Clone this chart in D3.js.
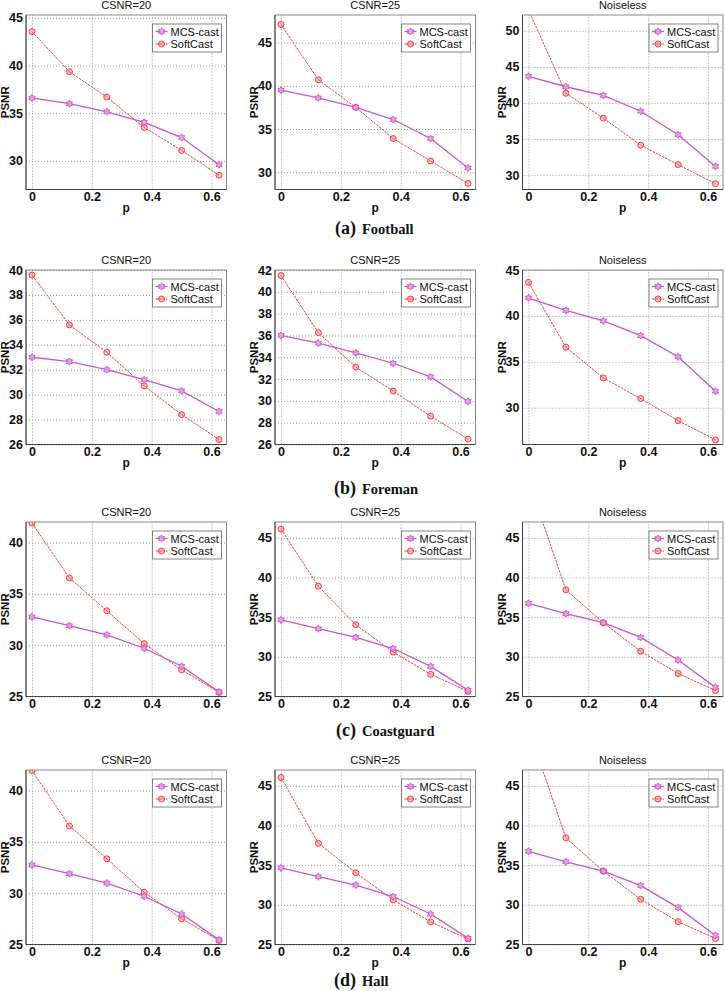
<!DOCTYPE html>
<html><head><meta charset="utf-8">
<script src="https://cdn.jsdelivr.net/npm/d3@7"></script>
<style>body{margin:0;background:#fff}</style>
</head><body><svg id="c" width="725" height="991"></svg>
<script>
const pValues = [0, 0.125, 0.25, 0.375, 0.5, 0.625];
const xTicks = [0, 0.2, 0.4, 0.6];
const sequenceNames = ["Football", "Foreman", "Coastguard", "Hall"];
const captionLetters = ["(a)", "(b)", "(c)", "(d)"];
const conditionTitles = ["CSNR=20", "CSNR=25", "Noiseless"];
const seriesNames = ["MCS-cast", "SoftCast"];

const footballMcs = [[36.6, 36.0, 35.15, 34.05, 32.45, 29.6], [39.5, 38.6, 37.5, 36.1, 33.9, 30.5], [43.7, 42.25, 41.05, 38.85, 35.6, 31.2]];
const footballSoft = [[43.55, 39.35, 36.7, 33.5, 31.1, 28.5], [47.1, 40.7, 37.5, 33.9, 31.3, 28.7], [52.9, 41.35, 37.9, 34.15, 31.45, 28.8]];
const foremanMcs = [[33.0, 32.65, 32.0, 31.2, 30.3, 28.65], [36.0, 35.3, 34.4, 33.45, 32.2, 29.95], [41.95, 40.6, 39.45, 37.85, 35.55, 31.8]];
const foremanSoft = [[39.6, 35.6, 33.4, 30.7, 28.4, 26.4], [41.5, 36.25, 33.1, 30.9, 28.6, 26.5], [43.65, 36.6, 33.25, 31.0, 28.6, 26.5]];
const coastguardMcs = [[32.75, 31.9, 31.0, 29.7, 27.95, 25.45], [34.65, 33.55, 32.45, 31.05, 28.8, 25.8], [36.75, 35.45, 34.3, 32.45, 29.6, 26.15]];
const coastguardSoft = [[41.9, 36.55, 33.35, 30.15, 27.6, 25.4], [46.1, 38.9, 34.05, 30.6, 27.8, 25.65], [52.2, 38.45, 34.3, 30.7, 27.9, 25.75]];
const hallMcs = [[32.75, 31.9, 30.98, 29.7, 27.97, 25.45], [34.65, 33.55, 32.5, 31.05, 28.85, 25.8], [36.75, 35.43, 34.25, 32.43, 29.65, 26.14]];
const hallSoft = [[41.95, 36.55, 33.35, 30.1, 27.5, 25.4], [46.05, 37.75, 34.05, 30.62, 27.85, 25.68], [52.2, 38.45, 34.25, 30.7, 27.87, 25.75]];

const yDomains = [
  [[27, 45.3], [28, 48.2], [28, 52.2]],
  [[26, 40], [26, 42], [26, 45]],
  [[25, 42], [25, 47], [25, 47]],
  [[25, 42], [25, 47], [25, 47]]
];
const yTicks = [
  [[30, 35, 40, 45], [30, 35, 40, 45], [30, 35, 40, 45, 50]],
  [[26, 28, 30, 32, 34, 36, 38, 40], [26, 28, 30, 32, 34, 36, 38, 40, 42], [30, 35, 40, 45]],
  [[25, 30, 35, 40], [25, 30, 35, 40, 45], [25, 30, 35, 40, 45]],
  [[25, 30, 35, 40], [25, 30, 35, 40, 45], [25, 30, 35, 40, 45]]
];
const mcsRows = [footballMcs, foremanMcs, coastguardMcs, hallMcs];
const softRows = [footballSoft, foremanSoft, coastguardSoft, hallSoft];
const showXLabel = [true, true, false, true];

// layout
const colLeft = [26, 275, 522.5];
const plotW = 200.5;
const rowTop = [15, 270, 522, 770];
const plotH = 174.5;
const captionY = [234, 494, 736, 986];
const mcsColor = "#cc55cc";
const softColor = "#ff3a3a";
const sans = "'Liberation Sans', Arial, sans-serif";
const serif = "'Liberation Serif', 'Times New Roman', serif";

const svg = d3.select("#c");

const hexagram = {
  draw(ctx, size) {
    const r = Math.sqrt(size);
    const ri = r / Math.sqrt(3);
    for (let i = 0; i < 12; i++) {
      const a = -Math.PI / 2 + i * Math.PI / 6;
      const rr = i % 2 === 0 ? r : ri;
      const x = rr * Math.cos(a), y = rr * Math.sin(a);
      if (i === 0) ctx.moveTo(x, y); else ctx.lineTo(x, y);
    }
    ctx.closePath();
  }
};

let clipId = 0;
for (let r = 0; r < 4; r++) {
  for (let c = 0; c < 3; c++) {
    const left = colLeft[c], top = rowTop[r];
    const g = svg.append("g").attr("transform", `translate(${left},${top})`);
    const x = d3.scaleLinear().domain([-0.02, 0.65]).range([0, plotW]);
    const y = d3.scaleLinear().domain(yDomains[r][c]).range([plotH, 0]);

    // grid
    const gx = g.append("g").attr("transform", `translate(0,${plotH})`)
      .call(d3.axisBottom(x).tickValues(xTicks).tickSize(-plotH).tickFormat(""));
    gx.select(".domain").remove();
    gx.selectAll("line").attr("stroke", "#9a9a9a").attr("stroke-dasharray", "1,2");
    const gy = g.append("g")
      .call(d3.axisLeft(y).tickValues(yTicks[r][c]).tickSize(-plotW).tickFormat(""));
    gy.select(".domain").remove();
    gy.selectAll("line").attr("stroke", "#9a9a9a").attr("stroke-dasharray", "1,2");

    // frame
    g.append("rect").attr("width", plotW).attr("height", plotH)
      .attr("fill", "none").attr("stroke", "#8a8a8a").attr("stroke-width", 1);
    g.append("path").attr("d", `M0,0V${plotH}H${plotW}`).attr("fill", "none")
      .attr("stroke", "#444").attr("stroke-width", 1);

    // tick labels
    const ax = g.append("g").attr("transform", `translate(0,${plotH})`)
      .call(d3.axisBottom(x).tickValues(xTicks).tickSize(0).tickPadding(3).tickFormat(d => d));
    ax.select(".domain").remove();
    ax.selectAll("text").attr("font-family", sans).attr("font-size", 12.5)
      .attr("font-weight", "bold").attr("fill", "#111");
    const ay = g.append("g")
      .call(d3.axisLeft(y).tickValues(yTicks[r][c]).tickSize(0).tickPadding(3));
    ay.select(".domain").remove();
    ay.selectAll("text").attr("font-family", sans).attr("font-size", 12.5)
      .attr("font-weight", "bold").attr("fill", "#111");

    // labels
    g.append("text").attr("x", plotW / 2).attr("y", -6).attr("text-anchor", "middle")
      .attr("font-family", sans).attr("font-size", 11).attr("fill", "#111")
      .text(conditionTitles[c]);
    g.append("text").attr("transform", `translate(-17,${plotH / 2}) rotate(-90)`)
      .attr("text-anchor", "middle").attr("font-family", sans).attr("font-size", 11.5)
      .attr("font-weight", "bold").attr("fill", "#111").text("PSNR");
    if (showXLabel[r]) {
      g.append("text").attr("x", plotW / 2).attr("y", plotH + 22).attr("text-anchor", "middle")
        .attr("font-family", sans).attr("font-size", 12).attr("font-weight", "bold")
        .attr("fill", "#111").text("p");
    }

    // clip
    const id = "clip" + (clipId++);
    g.append("clipPath").attr("id", id).append("rect").attr("width", plotW).attr("height", plotH);
    const plot = g.append("g").attr("clip-path", `url(#${id})`);

    const line = d3.line().x((d, i) => x(pValues[i])).y(d => y(d));
    const mcs = mcsRows[r][c], soft = softRows[r][c];

    plot.append("path").datum(soft).attr("d", line).attr("fill", "none")
      .attr("stroke", softColor).attr("stroke-width", 1).attr("stroke-dasharray", "2.5,1");
    plot.append("path").datum(mcs).attr("d", line).attr("fill", "none")
      .attr("stroke", mcsColor).attr("stroke-width", 1.3);
    plot.selectAll(".sm").data(soft).enter().append("circle")
      .attr("cx", (d, i) => x(pValues[i])).attr("cy", d => y(d)).attr("r", 3)
      .attr("fill", "rgba(255,120,120,0.45)").attr("stroke", softColor).attr("stroke-width", 1);
    plot.selectAll(".mm").data(mcs).enter().append("path")
      .attr("transform", (d, i) => `translate(${x(pValues[i])},${y(d)})`)
      .attr("d", d3.symbol().type(hexagram).size(13))
      .attr("fill", "#e6a0e6").attr("stroke", mcsColor).attr("stroke-width", 0.9);

    // legend
    const lg = g.append("g").attr("transform", `translate(${plotW - 74},9)`);
    lg.append("rect").attr("width", 69).attr("height", 28).attr("fill", "#fff")
      .attr("stroke", "#666").attr("stroke-width", 0.8);
    seriesNames.forEach((name, k) => {
      const yy = 7.5 + k * 12.5;
      const col = k === 0 ? mcsColor : softColor;
      lg.append("line").attr("x1", 3).attr("x2", 15).attr("y1", yy).attr("y2", yy)
        .attr("stroke", col).attr("stroke-width", k === 0 ? 1.3 : 1)
        .attr("stroke-dasharray", k === 0 ? null : "2.5,1");
      if (k === 0) {
        lg.append("path").attr("transform", `translate(9,${yy})`)
          .attr("d", d3.symbol().type(hexagram).size(13))
          .attr("fill", "#e6a0e6").attr("stroke", mcsColor).attr("stroke-width", 0.9);
      } else {
        lg.append("circle").attr("cx", 9).attr("cy", yy).attr("r", 3)
          .attr("fill", "rgba(255,120,120,0.45)").attr("stroke", softColor);
      }
      lg.append("text").attr("x", 18).attr("y", yy + 4).attr("font-family", sans)
        .attr("font-size", 11).attr("fill", "#111").text(name);
    });
  }
  // caption
  svg.append("text").attr("x", 356).attr("y", captionY[r]).attr("text-anchor", "end")
    .attr("font-family", serif).attr("font-size", 18).attr("font-weight", "bold")
    .attr("fill", "#111").text(captionLetters[r]);
  svg.append("text").attr("x", 362).attr("y", captionY[r]).attr("text-anchor", "start")
    .attr("font-family", serif).attr("font-size", 14.5).attr("font-weight", "bold")
    .attr("fill", "#111").text(sequenceNames[r]);
}
</script></body></html>
